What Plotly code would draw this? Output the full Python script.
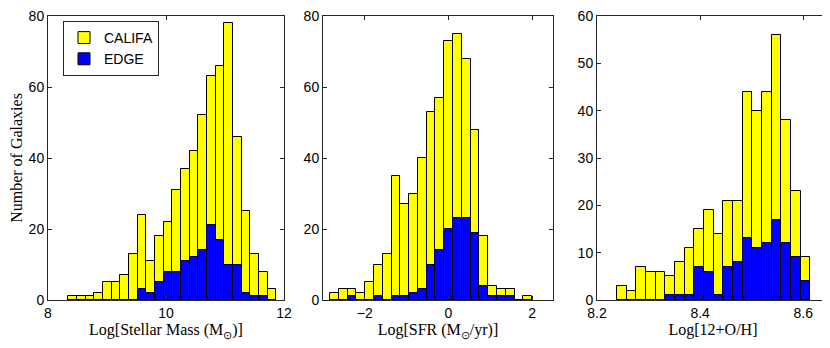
import plotly.graph_objects as go
from plotly.subplots import make_subplots

# histogram counts
mass_start, mass_width = 8.344, 0.147
mass_califa = [1, 1, 1, 2, 5, 5, 7, 13, 24, 11, 18, 22, 31, 37, 42, 52, 63, 66, 78, 46, 25, 13, 8, 3]
mass_edge = [0, 0, 0, 0, 0, 0, 0, 0, 3, 2, 5, 8, 8, 11, 12, 14, 21, 17, 10, 10, 2, 1, 1, 0]

sfr_start, sfr_width = -2.83, 0.21
sfr_califa = [2, 3, 3, 2, 5, 10, 13, 35, 27, 30, 40, 53, 57, 73, 75, 68, 48, 18, 4, 3, 3, 0, 1]
sfr_edge = [0, 0, 1, 0, 0, 1, 0, 1, 1, 2, 3, 10, 14, 20, 23, 23, 19, 4, 1, 1, 1, 0, 0]

oh_start, oh_width = 8.239, 0.01875
oh_califa = [3, 2, 7, 6, 6, 5, 8, 11, 15, 19, 14, 21, 21, 44, 40, 44, 56, 38, 23, 9]
oh_edge = [0, 0, 0, 0, 0, 1, 1, 1, 7, 6, 1, 7, 8, 13, 11, 12, 17, 12, 9, 4]

panels = [
    (mass_start, mass_width, mass_califa, mass_edge),
    (sfr_start, sfr_width, sfr_califa, sfr_edge),
    (oh_start, oh_width, oh_califa, oh_edge),
]

fig = make_subplots(rows=1, cols=3)

for i, (start, width, califa, edge) in enumerate(panels):
    for name, counts, color in [("CALIFA", califa, "#ffff00"), ("EDGE", edge, "#0000ff")]:
        fig.add_trace(go.Bar(
            y=counts, x0=start + width / 2, dx=width, width=width,
            name=name, showlegend=(i == 0),
            marker=dict(color=color, line=dict(color="black", width=1)),
        ), row=1, col=i + 1)

# the page puts the plot div 8px in from the corner, so margins are set against that
W, H = 830, 348
off = 8
ml, mr, mt, mb = 40, 9, 8, 56
pw = W - ml - mr
ph = H - mt - mb


def frac(px):
    return (px - off - ml) / pw


domains = [[0, frac(284)], [frac(323), frac(553)], [frac(597), 1.0]]
xranges = [[8, 12], [-3, 2.5], [8.2, 8.65]]
xticks = [[8, 10, 12], [-2, 0, 2], [8.2, 8.4, 8.6]]
yranges = [[0, 80], [0, 80], [0, 60]]
yticks = [[0, 20, 40, 60, 80], [0, 20, 40, 60, 80], [0, 10, 20, 30, 40, 50, 60]]
xtitles = ["Log[Stellar Mass (M<sub>⊙</sub>)]", "Log[SFR (M<sub>⊙</sub>/yr)]", "Log[12+O/H]"]

axis_common = dict(
    showline=True, linecolor="#262626", linewidth=1, mirror="ticks",
    ticks="inside", ticklen=4, tickcolor="#262626", showgrid=False, zeroline=False,
    tickfont=dict(family="Liberation Sans", size=14, color="black"),
    automargin=False, ticklabeloverflow="allow",
)
title_font = dict(family="Liberation Serif", size=16, color="black")

for i in range(3):
    fig.update_xaxes(domain=domains[i], range=xranges[i], tickvals=xticks[i],
                     title=dict(text=xtitles[i], standoff=4, font=title_font),
                     **axis_common, row=1, col=i + 1)
    fig.update_yaxes(range=yranges[i], tickvals=yticks[i], **axis_common, row=1, col=i + 1)

fig.update_yaxes(title=dict(text="Number of Galaxies", standoff=6, font=title_font),
                 row=1, col=1)

fig.update_layout(
    width=W, height=H, barmode="overlay", bargap=0,
    margin=dict(l=ml, r=mr, t=mt, b=mb, autoexpand=False),
    plot_bgcolor="white", paper_bgcolor="white",
    legend=dict(x=frac(63), y=(300 - 21) / ph, xanchor="left", yanchor="top",
                bgcolor="white", bordercolor="#262626", borderwidth=1,
                font=dict(family="Liberation Sans", size=14, color="black"),
                tracegroupgap=0),
)

fig.write_html("out.html")
